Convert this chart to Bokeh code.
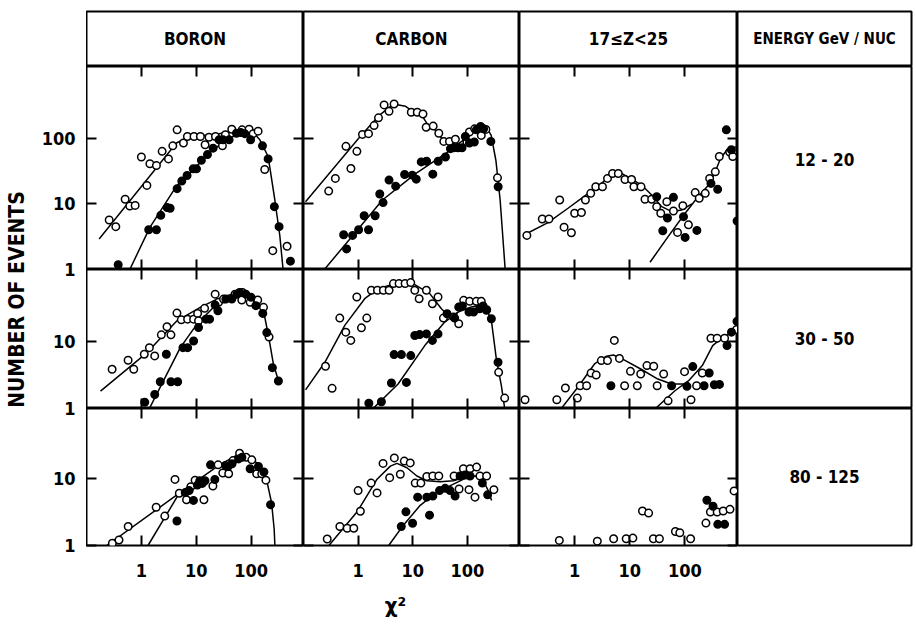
from bokeh.plotting import figure
from bokeh.models import Range1d, LogAxis, LinearAxis, FixedTicker, PrintfTickFormatter
from bokeh.layouts import row, column
from bokeh.core.properties import value
from bokeh.embed import file_html
from bokeh.resources import INLINE
import math

FONT = "DejaVu Sans Condensed"

# ---------------- labels ----------------
column_labels = ["BORON", "CARBON", "17≤Z<25"]
energy_header = "ENERGY GeV / NUC"
energy_labels = ["12 - 20", "30 - 50", "80 - 125"]
x_ticks = [1, 10, 100]
y_ticks_rows = [[1, 10, 100], [1, 10], [1, 10]]
y_title = "NUMBER OF EVENTS"
x_title = "χ²"

# ---------------- data: BORON 12-20 ----------------
boron_12_open_x = [0.259, 0.342, 0.506, 0.615, 0.77, 1.0, 1.26, 1.43, 1.88, 2.39, 3.12, 3.74, 4.48, 5.85, 6.9, 9.1, 11.9, 14.5, 17.1, 22.4, 30, 34, 44.4, 68.4, 91.8, 109, 134, 177, 248, 452]
boron_12_open_y = [5.7, 4.5, 11.8, 9.3, 9.5, 52, 19.2, 41, 38.5, 63.5, 48.6, 77, 135, 85, 107, 107, 107, 80, 104, 107, 77, 114, 138, 135, 138, 118, 129, 33.5, 1.94, 2.26]
boron_12_full_x = [0.378, 1.36, 1.88, 2.26, 2.95, 3.34, 4.48, 5.45, 6.8, 8.8, 10.1, 12.4, 16, 20.3, 26, 30.8, 39.7, 54, 64.7, 76.6, 98, 161, 204, 265, 323, 520]
boron_12_full_y = [1.18, 4.04, 4.04, 6.7, 8.8, 8.6, 17.1, 22.3, 27.2, 34.3, 34.3, 46.4, 56.6, 71, 95, 95, 95, 120, 123, 118, 95, 77, 48.6, 9.1, 4.5, 1.34]
boron_12_fit_open_x = [0.17, 4.35, 7.6, 20.3, 35.5, 71, 101, 144, 204, 269, 333, 382]
boron_12_fit_open_y = [2.92, 85, 107, 114, 123, 138, 132, 95, 53, 11.8, 3.3, 1]
boron_12_fit_full_x = [0.615, 1.43, 4.35, 8.8, 20.3, 35.5, 62, 101]
boron_12_fit_full_y = [1, 4.4, 18.7, 33.5, 67, 95, 120, 132]

# ---------------- data: CARBON 12-20 ----------------
carbon_12_open_x = [0.289, 0.383, 0.599, 0.738, 0.95, 1.2, 1.55, 1.96, 2.36, 2.99, 3.68, 4.55, 9.4, 12.1, 15.4, 17.6, 23.7, 30, 37, 47, 60.4, 98, 109, 136, 180, 218, 356]
carbon_12_open_y = [15.7, 24.5, 75.6, 34.7, 63.5, 115, 118, 157, 206, 324, 259, 335, 251, 251, 236, 148, 154, 120, 90, 90, 97, 88, 125, 140, 111, 137, 25]
carbon_12_full_x = [0.543, 0.615, 0.792, 1.02, 1.29, 1.55, 2.05, 2.49, 2.86, 3.68, 4.87, 7.1, 9.8, 11.6, 14.3, 17.9, 23.3, 29.2, 39.7, 49, 56.3, 67.5, 79.8, 91.8, 109, 134, 146, 175, 198, 269, 366]
carbon_12_full_y = [3.39, 2.06, 3.31, 4.04, 6.6, 4.04, 6.6, 14.2, 10.5, 23.1, 18.7, 28.1, 27.5, 23.9, 43.8, 44.8, 28.5, 44.8, 52, 69.7, 72, 72, 72, 107, 85, 88, 135, 152, 140, 90, 18.3]
carbon_12_fit_open_x = [0.109, 1.09, 2.42, 3.68, 5.22, 7.4, 10.5, 13.9, 18.4, 26.1, 34.5, 49, 69.5]
carbon_12_fit_open_y = [10.8, 107, 223, 298, 327, 309, 251, 242, 167, 132, 99, 81, 83]
carbon_12_fit_full_x = [0.241, 2.79, 11.3, 39.7, 69.5, 121, 172, 228, 273, 333, 398, 492]
carbon_12_fit_full_y = [1, 11.5, 29, 58.6, 83, 118, 148, 143, 111, 46, 11.5, 1]

# ---------------- data: 17<=Z<25 12-20 ----------------
heavy_12_open_x = [0.136, 0.259, 0.342, 0.536, 0.643, 0.874, 1.0, 1.33, 1.57, 1.96, 2.42, 3.2, 3.95, 4.87, 6.2, 8.2, 10.8, 11.9, 16, 18.9, 25, 30.8, 36.5, 47, 62, 73.5, 91.8, 116, 154, 182, 234, 281, 356, 421, 650, 738]
heavy_12_open_y = [3.31, 5.9, 5.9, 11.5, 4.43, 3.64, 7.2, 7.4, 11.5, 14.5, 18.3, 18.3, 24.5, 29.2, 29.2, 23.6, 23.6, 18.3, 18.3, 11.8, 11.8, 9.1, 7.2, 10.8, 7.8, 3.68, 9.4, 4.8, 14.9, 12.2, 14.5, 24.5, 30.9, 53, 62, 53]
heavy_12_full_x = [30.8, 48.3, 62, 39.7, 94.4, 101, 165, 297, 393, 565, 697, 885]
heavy_12_full_y = [12.9, 6.1, 12.6, 3.9, 6.4, 3.09, 3.95, 20.6, 16.7, 135, 67, 5.5]
heavy_12_fit_open_x = [0.123, 0.328, 0.759, 1.76, 3.07, 5.0, 7.1, 10.8, 16.4, 25, 38, 58, 88, 134]
heavy_12_fit_open_y = [3.39, 5.2, 8.6, 14.5, 20.6, 29.2, 29.2, 23.9, 19.4, 13.7, 9.1, 7.65, 8.1, 10]
heavy_12_fit_full_x = [23.3, 50, 101, 165, 269, 356, 440, 581, 880]
heavy_12_fit_full_y = [1.29, 3.2, 7.2, 12.2, 19.4, 30.9, 49, 67, 75]

# ---------------- data: BORON 30-50 ----------------
boron_30_open_x = [0.293, 0.573, 0.726, 1.13, 1.4, 1.75, 2.31, 2.93, 3.46, 4.45, 5.34, 6.96, 8.95, 10.6, 11, 14.2, 22.1, 25.5, 31.4, 51, 69.6, 67.6, 96, 132, 168, 212]
boron_30_open_y = [3.85, 5.25, 3.85, 6.46, 8.1, 6.1, 12.6, 16.6, 12.6, 26.6, 21.1, 21.6, 21.6, 26.3, 20.4, 31.3, 51, 38.5, 43, 51, 54, 41.7, 38.5, 41.7, 32.4, 11.7]
boron_30_full_x = [1.15, 1.75, 2.21, 3.46, 4.58, 2.85, 5.72, 6.96, 8.95, 11, 15, 17.5, 22.1, 24.8, 34.6, 44.5, 54.9, 61.4, 80, 100, 122, 163, 193, 244, 314]
boron_30_full_y = [1.24, 1.62, 2.51, 2.51, 2.51, 6.46, 8.1, 8.1, 10.2, 16.2, 21.6, 21.6, 35, 28.8, 43, 43, 51, 54, 51, 45.7, 34.3, 26.3, 13.6, 4.07, 2.57]
boron_30_fit_open_x = [0.18, 1.27, 4.45, 11.8, 23.8, 54.9, 83, 127, 168, 207, 255, 323]
boron_30_fit_open_y = [1.82, 6.84, 20.4, 32.4, 43, 54, 54, 43, 28.8, 12.2, 4.57, 2.43]
boron_30_fit_full_x = [1.4, 5.12, 10.3, 20.7, 31.4]
boron_30_fit_full_y = [1, 8.1, 18.2, 32.4, 43]

# ---------------- data: CARBON 30-50 ----------------
carbon_30_open_x = [0.253, 0.334, 0.462, 0.595, 0.734, 0.946, 1.15, 1.44, 1.75, 2.26, 2.9, 3.69, 4.43, 5.62, 7.24, 9.2, 10.9, 13.1, 17.8, 22.9, 29, 36.4, 56.2, 69.4, 85.7, 110, 146, 180, 226, 374, 482]
carbon_30_open_y = [4.27, 2.0, 22.4, 13.8, 10.4, 46.2, 16, 22.4, 58.2, 58.2, 58.2, 58.2, 73.3, 73.3, 73.3, 75.9, 58.2, 43.6, 58.2, 36.7, 46.2, 22.4, 23.2, 18.4, 41.2, 39.8, 39.8, 39.8, 29.9, 3.47, 1.43]
carbon_30_full_x = [1.57, 2.67, 4.07, 7.66, 4.56, 6.2, 9.2, 10.9, 13.4, 17.8, 22.9, 29, 42.5, 58.6, 69.4, 81, 107, 130, 168, 194, 223, 275, 364]
carbon_30_full_y = [1.2, 1.26, 2.4, 2.45, 6.38, 6.38, 6.17, 12.3, 12.7, 13, 10.4, 13, 26, 22.4, 32.7, 33.9, 27.5, 27.5, 30.9, 33.9, 29.2, 21.9, 4.9]
carbon_30_fit_open_x = [0.109, 0.246, 0.57, 1.32, 2.32, 4.69, 9.46, 20.5, 33.5, 51, 67.5]
carbon_30_fit_open_y = [1.9, 4.9, 17.4, 43.6, 61.7, 73.3, 75.9, 51.9, 30.9, 21.9, 27.5]
carbon_30_fit_full_x = [1.88, 5.39, 16.6, 38.5, 67.5, 118, 168, 223, 275, 339, 419, 482]
carbon_30_fit_full_y = [1, 2.32, 8.7, 19.5, 27.5, 32.7, 34.7, 30.9, 20.7, 5.5, 2.19, 1]

# ---------------- data: 17<=Z<25 30-50 ----------------
heavy_30_open_x = [0.126, 0.475, 0.68, 1.12, 1.26, 1.65, 1.99, 2.46, 3.05, 3.95, 5.25, 6.5, 8.07, 10.3, 13.7, 15.8, 20.5, 27.2, 31.4, 41.2, 49.6, 98.6, 129, 163, 207, 297, 384, 525, 867]
heavy_30_open_y = [1.35, 1.35, 2.02, 1.43, 2.19, 2.19, 3.39, 3.16, 5.19, 5.19, 10.4, 5.6, 2.19, 3.59, 2.19, 3.27, 4.37, 4.27, 2.19, 3.27, 1.3, 3.55, 1.35, 2.19, 3.39, 11.2, 11.2, 11.2, 15.1]
heavy_30_full_x = [4.55, 57.3, 109, 139, 223, 276, 342, 424, 581, 700, 880]
heavy_30_full_y = [2.19, 2.19, 2.14, 4.22, 2.19, 3.39, 2.26, 2.29, 8.7, 13.8, 20]
heavy_30_fit_open_x = [0.573, 1.2, 2.29, 3.78, 5.04, 7.73, 15.8, 32.3, 57.3, 101]
heavy_30_fit_open_y = [1, 2.19, 4.62, 6.03, 6.3, 5.37, 3.89, 2.75, 2.32, 2.32]
heavy_30_fit_full_x = [29.2, 66, 117, 207, 319, 489, 867]
heavy_30_fit_full_y = [1, 1.84, 2.6, 4.37, 8.7, 11.6, 14.6]

# ---------------- data: BORON 80-125 ----------------
boron_80_open_x = [0.296, 0.391, 0.575, 1.86, 2.67, 4.1, 4.91, 6.65, 7.96, 9.53, 13.8, 20.1, 25, 30.4, 39, 46.8, 61.6, 81.3, 103, 126, 156, 186]
boron_80_open_y = [1.08, 1.21, 1.92, 3.72, 2.75, 9.7, 6.03, 4.82, 7.55, 9.46, 4.82, 7.72, 16, 12.1, 11.8, 18.5, 23.8, 20.7, 19, 11.8, 11.8, 9.46]
boron_80_full_x = [4.45, 6.3, 7.43, 8.89, 10.5, 11.6, 12.9, 14.4, 18.2, 21.8, 34, 38, 44.9, 59.1, 67.9, 95.9, 136, 171, 226]
boron_80_full_y = [2.32, 6.16, 6.6, 4.71, 7.98, 9.25, 8.45, 9.25, 16, 9.67, 15.7, 15.1, 16.6, 19.6, 20.7, 14, 15.1, 12.5, 4.07]
boron_80_fit_open_x = [0.234, 4.91, 25.8, 59.1, 89.5, 136, 192, 236, 263, 271]
boron_80_fit_open_y = [1, 6.03, 15.7, 23.2, 20.7, 16.6, 9.46, 4.31, 1.75, 1]
boron_80_fit_full_x = [1.32, 4.91]
boron_80_fit_full_y = [1, 6.03]

# ---------------- data: CARBON 80-125 ----------------
carbon_80_open_x = [0.272, 0.463, 0.63, 0.834, 1.0, 1.1, 1.73, 2.22, 2.86, 3.78, 4.6, 5.92, 7.0, 9.0, 11.1, 14.1, 18.1, 23.3, 30, 57.1, 70.5, 84.6, 112, 148, 170, 225, 107, 138, 306]
carbon_80_open_y = [1.25, 1.92, 1.81, 1.81, 6.6, 3.25, 8.55, 6.1, 16.8, 10.3, 20.3, 11.6, 18.2, 17.1, 8.55, 8.55, 10.7, 10.9, 10.9, 10.9, 6.98, 14, 14, 14.8, 10.9, 10.9, 6.82, 5.27, 6.82]
carbon_80_full_x = [6.17, 7.5, 9.93, 20.3, 12.3, 18.1, 23.3, 30.9, 39.2, 48.3, 59.6, 73.5, 90.6, 112, 188, 235]
carbon_80_full_y = [1.92, 3.18, 2.15, 2.84, 5.27, 5.27, 5.46, 6.6, 7.14, 6.6, 5.46, 10.9, 11.3, 10.9, 8.55, 5.7]
carbon_80_fit_open_x = [0.292, 0.96, 2.22, 3.89, 5.14, 7.83, 11.9, 18.1, 31.7, 55.6, 97.2, 148, 196, 241, 278]
carbon_80_fit_open_y = [1, 3.18, 9.78, 15.3, 16.8, 14.5, 10.9, 9.25, 8.93, 9.25, 10.7, 10.9, 9.25, 6.6, 4.71]
carbon_80_fit_full_x = [3.63, 6.8, 13.7, 27.6, 55.6, 97.2]
carbon_80_fit_full_y = [1, 2.03, 3.98, 6.24, 8.26, 10.3]

# ---------------- data: 17<=Z<25 80-125 ----------------
heavy_80_open_x = [0.528, 2.58, 5.1, 8.62, 11.4, 17, 22, 26.8, 34.5, 67.3, 80.9, 127, 241, 290, 385, 496, 658, 780]
heavy_80_open_y = [1.19, 1.16, 1.26, 1.26, 1.29, 3.27, 3.05, 1.26, 1.26, 1.62, 1.55, 1.26, 2.16, 3.16, 3.16, 3.27, 3.47, 6.53]
heavy_80_full_x = [251, 324, 395, 525]
heavy_80_full_y = [4.73, 3.85, 2.07, 2.07]

PANELS = [
    [
        dict(open=(boron_12_open_x, boron_12_open_y), full=(boron_12_full_x, boron_12_full_y),
             fits=[(boron_12_fit_open_x, boron_12_fit_open_y), (boron_12_fit_full_x, boron_12_fit_full_y)]),
        dict(open=(carbon_12_open_x, carbon_12_open_y), full=(carbon_12_full_x, carbon_12_full_y),
             fits=[(carbon_12_fit_open_x, carbon_12_fit_open_y), (carbon_12_fit_full_x, carbon_12_fit_full_y)]),
        dict(open=(heavy_12_open_x, heavy_12_open_y), full=(heavy_12_full_x, heavy_12_full_y),
             fits=[(heavy_12_fit_open_x, heavy_12_fit_open_y), (heavy_12_fit_full_x, heavy_12_fit_full_y)]),
    ],
    [
        dict(open=(boron_30_open_x, boron_30_open_y), full=(boron_30_full_x, boron_30_full_y),
             fits=[(boron_30_fit_open_x, boron_30_fit_open_y), (boron_30_fit_full_x, boron_30_fit_full_y)]),
        dict(open=(carbon_30_open_x, carbon_30_open_y), full=(carbon_30_full_x, carbon_30_full_y),
             fits=[(carbon_30_fit_open_x, carbon_30_fit_open_y), (carbon_30_fit_full_x, carbon_30_fit_full_y)]),
        dict(open=(heavy_30_open_x, heavy_30_open_y), full=(heavy_30_full_x, heavy_30_full_y),
             fits=[(heavy_30_fit_open_x, heavy_30_fit_open_y), (heavy_30_fit_full_x, heavy_30_fit_full_y)]),
    ],
    [
        dict(open=(boron_80_open_x, boron_80_open_y), full=(boron_80_full_x, boron_80_full_y),
             fits=[(boron_80_fit_open_x, boron_80_fit_open_y), (boron_80_fit_full_x, boron_80_fit_full_y)]),
        dict(open=(carbon_80_open_x, carbon_80_open_y), full=(carbon_80_full_x, carbon_80_full_y),
             fits=[(carbon_80_fit_open_x, carbon_80_fit_open_y), (carbon_80_fit_full_x, carbon_80_fit_full_y)]),
        dict(open=(heavy_80_open_x, heavy_80_open_y), full=(heavy_80_full_x, heavy_80_full_y), fits=[]),
    ],
]

# ---------------- geometry (layout pixels) ----------------
TOP = 11            # top of header box
LEFT = 86           # left edge of the first panel column
HEADER_H = 55
COL_W = [217, 216, 218]
ENERGY_W = 174
ROW_H = [203, 139, 137]
Y_MAX = [1250, 119, 111]
X_RANGE = (0.1, 900)
BOTTOM_PAD = 42
FOOTER_H = 39
TOTAL_H = TOP + HEADER_H + sum(ROW_H) + BOTTOM_PAD + FOOTER_H

row_top = [TOP + HEADER_H + sum(ROW_H[:i]) for i in range(3)]
row_bottom = [row_top[i] + ROW_H[i] for i in range(3)]


def base_fig(width, height, xr, yr, **kw):
    p = figure(width=width, height=height, x_range=xr, y_range=yr,
               x_axis_location=None, y_axis_location=None,
               toolbar_location=None, output_backend="svg",
               min_border_left=kw.pop("min_border_left", 0),
               min_border_right=kw.pop("min_border_right", 0),
               min_border_top=kw.pop("min_border_top", 0),
               min_border_bottom=kw.pop("min_border_bottom", 0),
               **kw)
    p.grid.visible = False
    p.border_fill_color = None
    p.background_fill_color = None
    p.outline_line_color = None
    return p


def panel(ri, ci):
    bottom = BOTTOM_PAD if ri == 2 else 0
    p = base_fig(COL_W[ci], ROW_H[ri] + bottom,
                 Range1d(*X_RANGE), Range1d(1, Y_MAX[ri]),
                 x_axis_type="log", y_axis_type="log",
                 min_border_bottom=bottom)
    p.outline_line_color = "black"
    p.outline_line_width = 2
    for side in ("left", "right", "above", "below"):
        is_y = side in ("left", "right")
        ax = LogAxis(ticker=FixedTicker(ticks=y_ticks_rows[ri] if is_y else x_ticks),
                     formatter=PrintfTickFormatter(format="%d"))
        ax.axis_line_color = None
        ax.major_tick_in = 10
        ax.major_tick_out = 0
        ax.minor_tick_in = 0
        ax.minor_tick_out = 0
        ax.major_tick_line_width = 2
        ax.major_tick_line_color = "black"
        ax.minor_tick_line_color = None
        if side == "below" and ri == 2:
            ax.major_label_text_font = FONT
            ax.major_label_text_font_size = "18px"
            ax.major_label_text_font_style = "bold"
            ax.major_label_text_color = "black"
            ax.major_label_standoff = 18
        else:
            ax.major_label_text_font_size = "0px"
            ax.major_label_text_color = None
            ax.major_label_standoff = 0
        p.add_layout(ax, side)

    d = PANELS[ri][ci]
    for fx, fy in d["fits"]:
        p.line(fx, fy, line_color="black", line_width=1.5)
    ox, oy = d["open"]
    p.scatter(ox, oy, marker="circle", size=7.5, fill_color="white",
              line_color="black", line_width=1.5)
    fx, fy = d["full"]
    p.scatter(fx, fy, marker="circle", size=7.5, fill_color="black",
              line_color="black", line_width=1.5)
    return p


def text_cell(width, height, label, ty=0.5, size="16px", **kw):
    p = base_fig(width, height, Range1d(0, 1), Range1d(0, 1), **kw)
    p.outline_line_color = "black"
    p.outline_line_width = 2
    p.text(x=[0.5], y=[ty], text=[label], text_align="center", text_baseline="middle",
           text_font=value(FONT), text_font_size=size, text_font_style="bold",
           text_color="black")
    return p


# header row
header = row(
    text_cell(COL_W[0], HEADER_H + TOP, column_labels[0], min_border_top=TOP, size="17px"),
    text_cell(COL_W[1], HEADER_H + TOP, column_labels[1], min_border_top=TOP, size="17px"),
    text_cell(COL_W[2], HEADER_H + TOP, column_labels[2], min_border_top=TOP, size="17px"),
    text_cell(ENERGY_W + 2, HEADER_H + TOP, energy_header, min_border_top=TOP,
              min_border_right=2, size="15px"),
)

energy_y = [0.54, 0.5, 0.5]
rows = []
for ri in range(3):
    figs = [panel(ri, ci) for ci in range(3)]
    if ri == 2:
        figs.append(text_cell(ENERGY_W + 2, ROW_H[ri] + BOTTOM_PAD, energy_labels[ri], ty=energy_y[ri],
                              size="17px", min_border_right=2, min_border_bottom=BOTTOM_PAD))
    else:
        figs.append(text_cell(ENERGY_W + 2, ROW_H[ri], energy_labels[ri], ty=energy_y[ri],
                              size="17px", min_border_right=2))
    rows.append(row(*figs))

# footer with the x title (layout pixel coordinates)
foot_w = sum(COL_W) + ENERGY_W + 2
footer = base_fig(foot_w, FOOTER_H, Range1d(LEFT, LEFT + foot_w),
                  Range1d(TOTAL_H, TOTAL_H - FOOTER_H))
footer.text(x=[LEFT + 309], y=[TOTAL_H - 21], text=[x_title], text_align="center",
            text_baseline="middle", text_font=value(FONT), text_font_size="22px",
            text_font_style="bold", text_color="black")

# left strip: y title + the y tick labels of every panel row (layout pixel coordinates,
# each row's labels placed with that row's own log mapping)
label_pos, label_txt = [], []
for ri in range(3):
    decade_px = ROW_H[ri] / math.log10(Y_MAX[ri])
    for t in y_ticks_rows[ri]:
        label_pos.append(row_bottom[ri] - math.log10(t) * decade_px)
        label_txt.append("%d" % t)

strip_bottom = row_bottom[2] + BOTTOM_PAD
title_fig = base_fig(LEFT, TOTAL_H, Range1d(0, 1), Range1d(strip_bottom, TOP),
                     min_border_left=LEFT - 1, min_border_top=TOP,
                     min_border_bottom=TOTAL_H - strip_bottom)
yax = LinearAxis(ticker=FixedTicker(ticks=label_pos),
                 major_label_overrides={p_: t_ for p_, t_ in zip(label_pos, label_txt)})
yax.axis_line_color = None
yax.major_tick_line_color = None
yax.minor_tick_line_color = None
yax.major_tick_in = 0
yax.major_tick_out = 0
yax.minor_tick_in = 0
yax.minor_tick_out = 0
yax.major_label_standoff = 10
yax.major_label_text_font = FONT
yax.major_label_text_font_size = "18px"
yax.major_label_text_font_style = "bold"
yax.major_label_text_color = "black"
yax.axis_label = y_title
yax.axis_label_text_font = FONT
yax.axis_label_text_font_size = "21px"
yax.axis_label_text_font_style = "bold"
yax.axis_label_text_color = "black"
yax.axis_label_standoff = 10
title_fig.add_layout(yax, "left")

layout = row(title_fig, column(header, *rows, footer))

open("out.html", "w").write(file_html(layout, INLINE))
